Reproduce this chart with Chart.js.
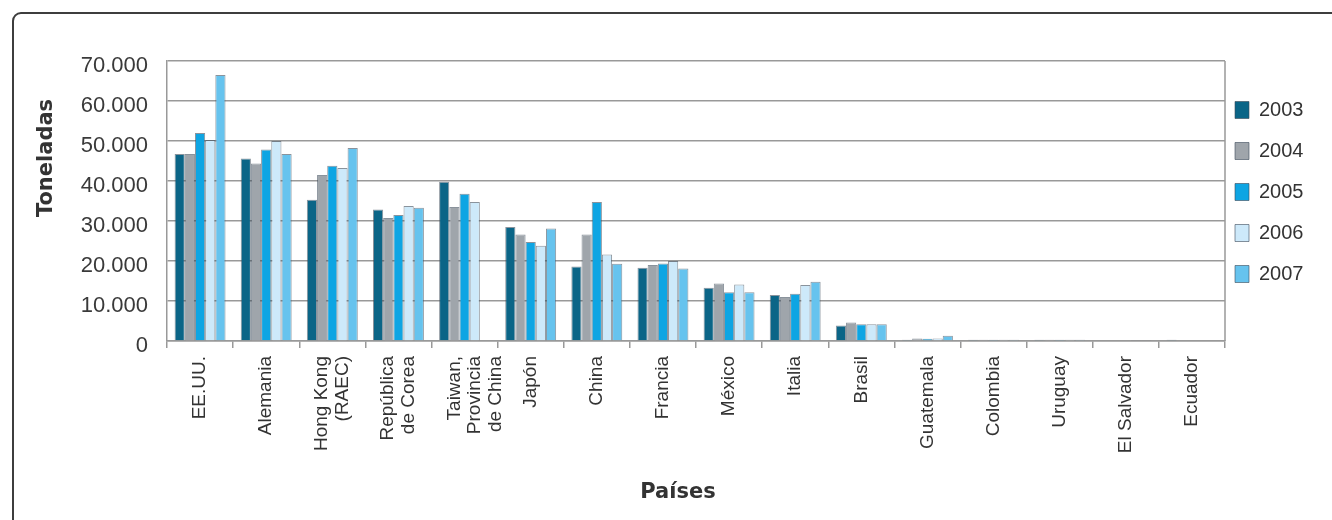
<!DOCTYPE html>
<html>
<head>
<meta charset="utf-8">
<script src="https://cdn.jsdelivr.net/npm/chart.js@4.4.1/dist/chart.umd.min.js"></script>
<style>
  html, body { margin: 0; padding: 0; background: #fff; overflow: hidden; }
  #frame {
    position: absolute; left: 12px; top: 12px; width: 1400px; height: 600px;
    border: 2px solid #3d3d3d; border-radius: 9px; box-sizing: border-box;
  }
  #wrap { position: absolute; left: 0; top: 0; width: 1332px; height: 520px; }
</style>
</head>
<body>
<div id="frame"></div>
<div id="wrap"><canvas id="paisesChart"></canvas></div>
<script>
  "use strict";

  // categorias (paises) y series por anio, en toneladas
  const paises = [
    "EE.UU.", "Alemania", ["Hong Kong", "(RAEC)"], ["República", "de Corea"],
    ["Taiwan,", "Provincia", "de China"], "Japón", "China", "Francia", "México",
    "Italia", "Brasil", "Guatemala", "Colombia", "Uruguay", "El Salvador", "Ecuador"
  ];
  const anios = ["2003", "2004", "2005", "2006", "2007"];
  const t2003 = [46750, 45600, 35300, 32900, 39800, 28500, 18600, 18300, 13300, 11500, 3900, 300, 300, 300, null, 300];
  const t2004 = [46750, 44400, 41500, 30750, 33500, 26600, 26600, 19000, 14400, 11000, 4600, 600, 300, 300, null, null];
  const t2005 = [52000, 47900, 43800, 31500, 36800, 24750, 34750, 19400, 12200, 11800, 4200, 550, 300, 300, null, null];
  const t2006 = [50250, 50000, 43250, 33750, 34750, 23800, 21600, 20000, 14100, 14000, 4200, 650, 300, 300, 250, null];
  const t2007 = [66500, 46750, 48250, 33300, null, 28100, 19300, 18100, 12200, 14800, 4200, 1300, 300, 300, 250, null];
  const yTicks = [0, 10000, 20000, 30000, 40000, 50000, 60000, 70000];

  const colores = ["#0b6587", "#9fa5ab", "#0ea5e3", "#cde9fa", "#66c3ee"];
  const series = [t2003, t2004, t2005, t2006, t2007];

  const fuenteX = { family: '"Liberation Sans", Arial, sans-serif', size: 19, lineHeight: 1.08 };

  function miles(v) {
    return String(v).replace(/\B(?=(\d{3})+(?!\d))/g, ".");
  }

  // titulos de ejes, borde derecho del area y ajuste de la leyenda
  const marco = {
    id: 'marco',
    afterInit(chart) {
      const legend = chart.legend;
      const fit = legend.fit;
      legend.fit = function () {
        fit.call(this);
        this.width = 107;
      };
    },
    afterLayout(chart) {
      const legend = chart.legend;
      legend.left = chart.chartArea.right - 11;
      legend.right = legend.left + legend.width;
      legend.top = 79;
    },
    afterDraw(chart) {
      const { ctx, chartArea: { top, bottom, right } } = chart;
      ctx.save();
      ctx.beginPath();
      ctx.lineWidth = 1.5;
      ctx.strokeStyle = '#999';
      ctx.moveTo(right, top);
      ctx.lineTo(right, bottom);
      ctx.stroke();

      ctx.fillStyle = '#333';
      ctx.font = 'bold 21px "DejaVu Sans"';
      ctx.textAlign = 'center';
      ctx.textBaseline = 'middle';
      ctx.fillText('Países', 678, 493);
      ctx.translate(47, 158);
      ctx.rotate(-Math.PI / 2);
      ctx.fillText('Toneladas', 0, 0);
      ctx.restore();
    }
  };

  const ctx = document.getElementById("paisesChart");
  const paisesChart = new Chart(ctx, {
    type: 'bar',
    data: {
      labels: paises,
      datasets: anios.map((a, i) => ({
        label: a,
        data: series[i],
        backgroundColor: colores[i],
        borderColor: 'rgba(60, 75, 90, 0.6)',
        borderWidth: 1,
        categoryPercentage: 0.77,
        barPercentage: 1.0
      }))
    },
    options: {
      responsive: true,
      maintainAspectRatio: false,
      animation: false,
      layout: {
        padding: { top: 61, left: 0, right: 0, bottom: 0 }
      },
      plugins: {
        tooltip: { enabled: false },
        legend: {
          position: 'right',
          align: 'start',
          labels: {
            boxWidth: 14,
            boxHeight: 17,
            padding: 21,
            color: '#333',
            font: { family: '"Liberation Sans", Arial, sans-serif', size: 20 }
          }
        }
      },
      scales: {
        x: {
          afterFit(scale) { scale.height = 179; },
          grid: {
            offset: true,
            drawOnChartArea: false,
            drawTicks: true,
            tickLength: 7,
            color: '#999',
            lineWidth: 1.5
          },
          border: { display: true, color: '#999', width: 1.5 },
          ticks: {
            autoSkip: false,
            minRotation: 90,
            maxRotation: 90,
            padding: 8,
            color: '#333',
            // desplazamiento de media linea: las etiquetas de varias lineas quedan centradas
            labelOffset: -fuenteX.size * fuenteX.lineHeight / 2,
            showLabelBackdrop: (c) => !Array.isArray(paises[c.index]),
            backdropColor: 'rgba(0, 0, 0, 0)',
            backdropPadding: 0,
            font: fuenteX
          }
        },
        y: {
          min: 0,
          max: 70000,
          afterFit(scale) { scale.width = 167; },
          afterBuildTicks(scale) {
            scale.ticks = yTicks.map(v => ({ value: v }));
          },
          grid: {
            drawTicks: false,
            color: '#999',
            lineWidth: 1.5
          },
          border: { display: true, color: '#999', width: 1.5 },
          ticks: {
            padding: 19,
            labelOffset: 5,
            color: '#3a3a3a',
            font: { family: '"Liberation Sans", Arial, sans-serif', size: 22 },
            callback: (v) => miles(v)
          }
        }
      }
    },
    plugins: [marco]
  });
</script>
</body>
</html>
